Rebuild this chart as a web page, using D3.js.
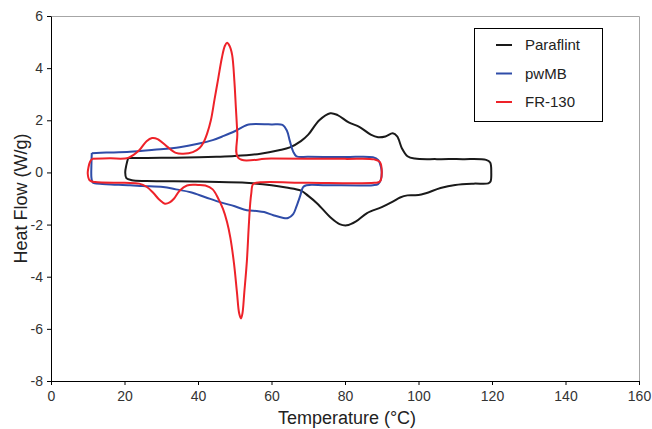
<!DOCTYPE html>
<html>
<head>
<meta charset="utf-8">
<script src="https://cdn.jsdelivr.net/npm/d3@7"></script>
<style>
  html, body { margin: 0; padding: 0; background: #fff; }
  svg { display: block; font-family: "Liberation Sans", Arial, sans-serif; }
</style>
</head>
<body>
<svg id="chart" width="652" height="429"></svg>
<script>
// DSC heating / cooling loops: [temperature °C, heat flow W/g]
const paraflint = [
  [21, 0.55], [30, 0.56], [37, 0.57], [45, 0.6], [50, 0.63], [57, 0.72], [62, 0.85], [65, 0.96],
  [68, 1.2], [70, 1.45], [73, 2.0], [76, 2.27], [78, 2.2], [81, 1.92], [84, 1.74], [87, 1.45],
  [89, 1.35], [91, 1.38], [93, 1.5], [94.2, 1.38], [95.5, 0.92], [97, 0.62], [99, 0.53],
  [105, 0.51], [112, 0.51], [118.4, 0.48], [119.5, 0.38], [119.8, 0.0], [119.6, -0.35],
  [119, -0.42], [115, -0.43], [110, -0.48], [106, -0.6], [102, -0.8], [100, -0.87], [97, -0.88],
  [95, -0.96], [93, -1.12], [90, -1.33], [86, -1.56], [83, -1.88], [80.5, -2.03], [78.5, -1.98],
  [76, -1.72], [72.5, -1.2], [70, -0.9], [68, -0.7], [64, -0.58], [60, -0.49], [52, -0.39],
  [40, -0.35], [26, -0.33], [22, -0.3], [20.5, -0.22], [20.2, 0.0], [20.5, 0.28], [21, 0.55]
];

const pwMB = [
  [11.1, 0.74], [15, 0.76], [21.5, 0.79], [28, 0.87], [35, 0.97], [40, 1.1], [44, 1.24],
  [47, 1.4], [50, 1.58], [53.3, 1.82], [54.5, 1.85], [60, 1.84], [63, 1.82], [64.2, 1.6],
  [65, 1.2], [65.9, 0.8], [66.8, 0.62], [70, 0.6], [80, 0.59], [87.6, 0.58], [89, 0.48],
  [89.8, 0.2], [90, 0.0], [89.7, -0.3], [89, -0.45], [87.6, -0.49], [75, -0.49], [69.5, -0.49],
  [68.6, -0.56], [67.8, -0.9], [66.8, -1.3], [65.9, -1.6], [64.5, -1.75], [63, -1.74],
  [60.5, -1.64], [58, -1.52], [56, -1.48], [53.3, -1.45], [50, -1.3], [46, -1.14], [42, -0.95],
  [38, -0.76], [34, -0.65], [30.5, -0.56], [25, -0.52], [21.5, -0.49], [15, -0.45], [12, -0.42],
  [11.3, -0.38], [11, -0.2], [11, 0.3], [11.1, 0.74]
];

const fr130 = [
  [11.2, 0.52], [16, 0.54], [21, 0.56], [24, 0.85], [26, 1.2], [27.5, 1.32], [29, 1.28],
  [31.5, 1.0], [34, 0.75], [36, 0.72], [38.6, 0.78], [40.5, 0.95], [41.5, 1.15], [42.5, 1.5],
  [43.5, 2.0], [44.5, 2.8], [45.5, 3.6], [46.5, 4.4], [47.3, 4.85], [47.9, 4.97], [48.6, 4.85],
  [49.3, 4.5], [49.9, 3.5], [50.3, 2.5], [50.7, 1.5], [51, 0.55], [60, 0.53], [80, 0.52],
  [88, 0.5], [89.5, 0.4], [90, 0.0], [89.5, -0.35], [88, -0.4], [70, -0.4], [57, -0.38],
  [55, -0.45], [54.5, -0.8], [54.2, -1.2], [53.8, -2.1], [53.3, -3.4], [52.6, -4.6],
  [52.1, -5.4], [51.7, -5.6], [51.2, -5.4], [50.6, -4.6], [49.8, -3.5], [48.8, -2.5],
  [47.9, -1.9], [46.8, -1.4], [45.5, -1.0], [44, -0.65], [42, -0.5], [40, -0.48], [37, -0.5],
  [35, -0.7], [33.5, -1.0], [32.3, -1.15], [31, -1.2], [29.5, -1.05], [27.8, -0.78],
  [26, -0.55], [24, -0.43], [20, -0.4], [12, -0.37], [10.5, -0.3], [10, -0.05], [10.2, 0.2],
  [10.6, 0.4], [11.2, 0.52]
];

const seriesNames = ["Paraflint", "pwMB", "FR-130"];
const seriesData = [paraflint, pwMB, fr130];
const seriesColors = ["#1a1a1a", "#2f4ca8", "#ee2229"];

const xTicks = [0, 20, 40, 60, 80, 100, 120, 140, 160];
const yTicks = [-8, -6, -4, -2, 0, 2, 4, 6];

const svg = d3.select("#chart");
const plotLeft = 51, plotRight = 639, plotTop = 16, plotBottom = 381;

const x = d3.scaleLinear().domain([0, 160]).range([plotLeft, plotRight]);
const y = d3.scaleLinear().domain([-8, 6]).range([plotBottom, plotTop]);

// plot frame (light grey on top and right)
svg.append("path")
  .attr("d", `M${plotLeft},${plotTop + 0.5}H${plotRight + 0.5}V${plotBottom}`)
  .attr("fill", "none").attr("stroke", "#a6a6a6").attr("stroke-width", 1);

const plainFormat = d => String(d);

const xAxis = svg.append("g")
  .attr("transform", `translate(0,${plotBottom})`)
  .call(d3.axisBottom(x).tickValues(xTicks).tickFormat(plainFormat)
    .tickSize(4).tickSizeOuter(0).tickPadding(6));
const yAxis = svg.append("g")
  .attr("transform", `translate(${plotLeft},0)`)
  .call(d3.axisLeft(y).tickValues(yTicks).tickFormat(plainFormat)
    .tickSize(4).tickSizeOuter(0).tickPadding(4));

[xAxis, yAxis].forEach(g => {
  g.select(".domain").attr("stroke", "#000").attr("stroke-width", 1);
  g.selectAll(".tick line").attr("stroke", "#000");
  g.selectAll(".tick text").attr("fill", "#333").attr("font-size", 14)
    .attr("font-family", "Liberation Sans, Arial, sans-serif");
});

// axis titles
svg.append("text")
  .attr("x", (plotLeft + plotRight) / 2 + 2).attr("y", 424)
  .attr("text-anchor", "middle").attr("font-size", 18).attr("fill", "#222")
  .text("Temperature (°C)");
svg.append("text")
  .attr("transform", `translate(27,${(plotTop + plotBottom) / 2}) rotate(-90)`)
  .attr("text-anchor", "middle").attr("font-size", 18).attr("fill", "#222")
  .text("Heat Flow (W/g)");

// curves
const line = d3.line()
  .x(d => x(d[0])).y(d => y(d[1]))
  .curve(d3.curveCatmullRom.alpha(0.5));

seriesData.forEach((data, i) => {
  svg.append("path")
    .datum(data)
    .attr("d", line)
    .attr("fill", "none")
    .attr("stroke", seriesColors[i])
    .attr("stroke-width", 2)
    .attr("stroke-linejoin", "round");
});

// legend
const legend = svg.append("g");
legend.append("rect")
  .attr("x", 474.5).attr("y", 28.5).attr("width", 128).attr("height", 93)
  .attr("fill", "#fff").attr("stroke", "#000").attr("stroke-width", 1);
seriesNames.forEach((name, i) => {
  const cy = 45 + i * 28.5;
  legend.append("line")
    .attr("x1", 496).attr("x2", 512).attr("y1", cy).attr("y2", cy)
    .attr("stroke", seriesColors[i]).attr("stroke-width", 2);
  legend.append("text")
    .attr("x", 525).attr("y", cy).attr("dy", "0.35em")
    .attr("font-size", 15).attr("fill", "#222")
    .text(name);
});
</script>
</body>
</html>
